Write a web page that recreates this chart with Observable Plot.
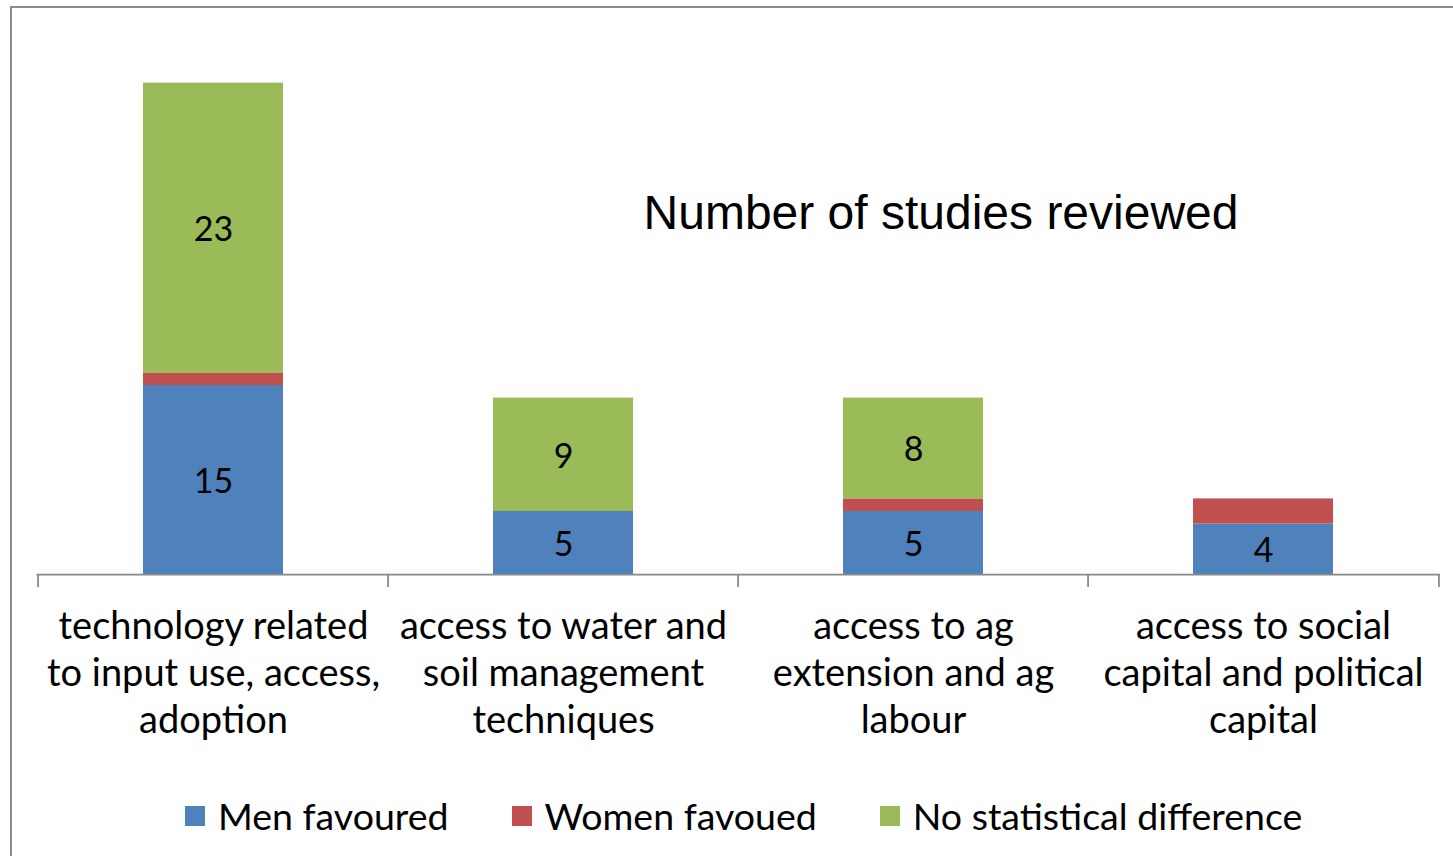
<!DOCTYPE html>
<html><head><meta charset="utf-8">
<script src="https://cdn.jsdelivr.net/npm/d3@7"></script>
<script src="https://cdn.jsdelivr.net/npm/@observablehq/plot@0.6"></script>
<style>
body{margin:0;background:#fff;overflow:hidden}
#wrap{position:relative;width:1453px;height:856px;overflow:hidden;font-family:Lato,sans-serif;background:#fff}
#frame{position:absolute;left:10px;top:6px;width:1600px;height:1000px;border-left:2px solid #8c8c8c;border-top:2px solid #8c8c8c;box-sizing:border-box}
#chart{position:absolute;left:0;top:0}
#title{position:absolute;left:941px;top:189px;transform:translateX(-50%);font-family:"Liberation Sans",Arial,sans-serif;font-size:48px;line-height:48px;white-space:nowrap;color:#000}
#legend{position:absolute;left:185px;top:796px;height:40px;display:flex;align-items:center;font-size:37.5px;line-height:40px;color:#000;white-space:nowrap}
.item{display:flex;align-items:center;margin-right:63px}
.sw{width:20px;height:20px;margin-right:13px}
</style></head>
<body>
<div id="wrap">
  <div id="frame"></div>
  <div id="chart"></div>
  <div id="title"></div>
  <div id="legend"></div>
</div>
<script>
const categories = [
  "technology related\nto input use, access,\nadoption",
  "access to water and\nsoil management\ntechniques",
  "access to ag\nextension and ag\nlabour",
  "access to social\ncapital and political\ncapital"
];
const seriesNames = ["Men favoured", "Women favoued", "No statistical difference"];
const menFavoured = [15, 5, 5, 4];
const womenFavoured = [1, 0, 1, 2];
const noDifference = [23, 9, 8, 0];
const seriesColors = ["#4F81BD", "#C0504D", "#9BBB59"];
const titleText = "Number of studies reviewed";

const seriesValues = [menFavoured, womenFavoured, noDifference];
const rows = categories.flatMap((c, i) =>
  seriesNames.map((s, k) => ({category: c, series: s, value: seriesValues[k][i]}))
);

const W = 1453, H = 790, ML = 36.5, MR = 13;
const step = (W - ML - MR) / categories.length;

const chart = Plot.plot({
  width: W, height: H,
  marginTop: 70, marginBottom: 216, marginLeft: ML, marginRight: MR,
  x: {domain: categories, paddingInner: 0.6, paddingOuter: 0.3},
  y: {domain: [0, 40], axis: null},
  color: {domain: seriesNames, range: seriesColors},
  style: {fontFamily: "Lato, sans-serif", background: "transparent", color: "#000"},
  marks: [
    Plot.barY(rows, Plot.stackY({x: "category", y: "value", fill: "series"})),
    Plot.text(rows, Plot.stackY({
      x: "category", y: "value",
      text: d => (d.series !== seriesNames[1] && d.value > 0) ? String(d.value) : null,
      fontSize: 34, fill: "#000", dy: 2
    })),
    Plot.ruleY([0], {stroke: "#888", strokeWidth: 1.75}),
    Plot.ruleX(categories, {x: d => d, y1: 0, y2: 0, insetBottom: -13, dx: -step / 2, stroke: "#888", strokeWidth: 1.75}),
    Plot.ruleX(categories.slice(-1), {x: d => d, y1: 0, y2: 0, insetBottom: -13, dx: step / 2, stroke: "#888", strokeWidth: 1.75}),
    Plot.axisX({tickSize: 0, tickPadding: 31, fontSize: 38, lineHeight: 1.24, fill: "#000", label: null})
  ]
});
document.getElementById("chart").appendChild(chart);
document.getElementById("title").textContent = titleText;

const legend = document.getElementById("legend");
seriesNames.forEach((s, k) => {
  const item = document.createElement("div");
  item.className = "item";
  const sw = document.createElement("div");
  sw.className = "sw";
  sw.style.background = seriesColors[k];
  const t = document.createElement("span");
  t.textContent = s;
  item.appendChild(sw); item.appendChild(t);
  legend.appendChild(item);
});
</script>
</body></html>
